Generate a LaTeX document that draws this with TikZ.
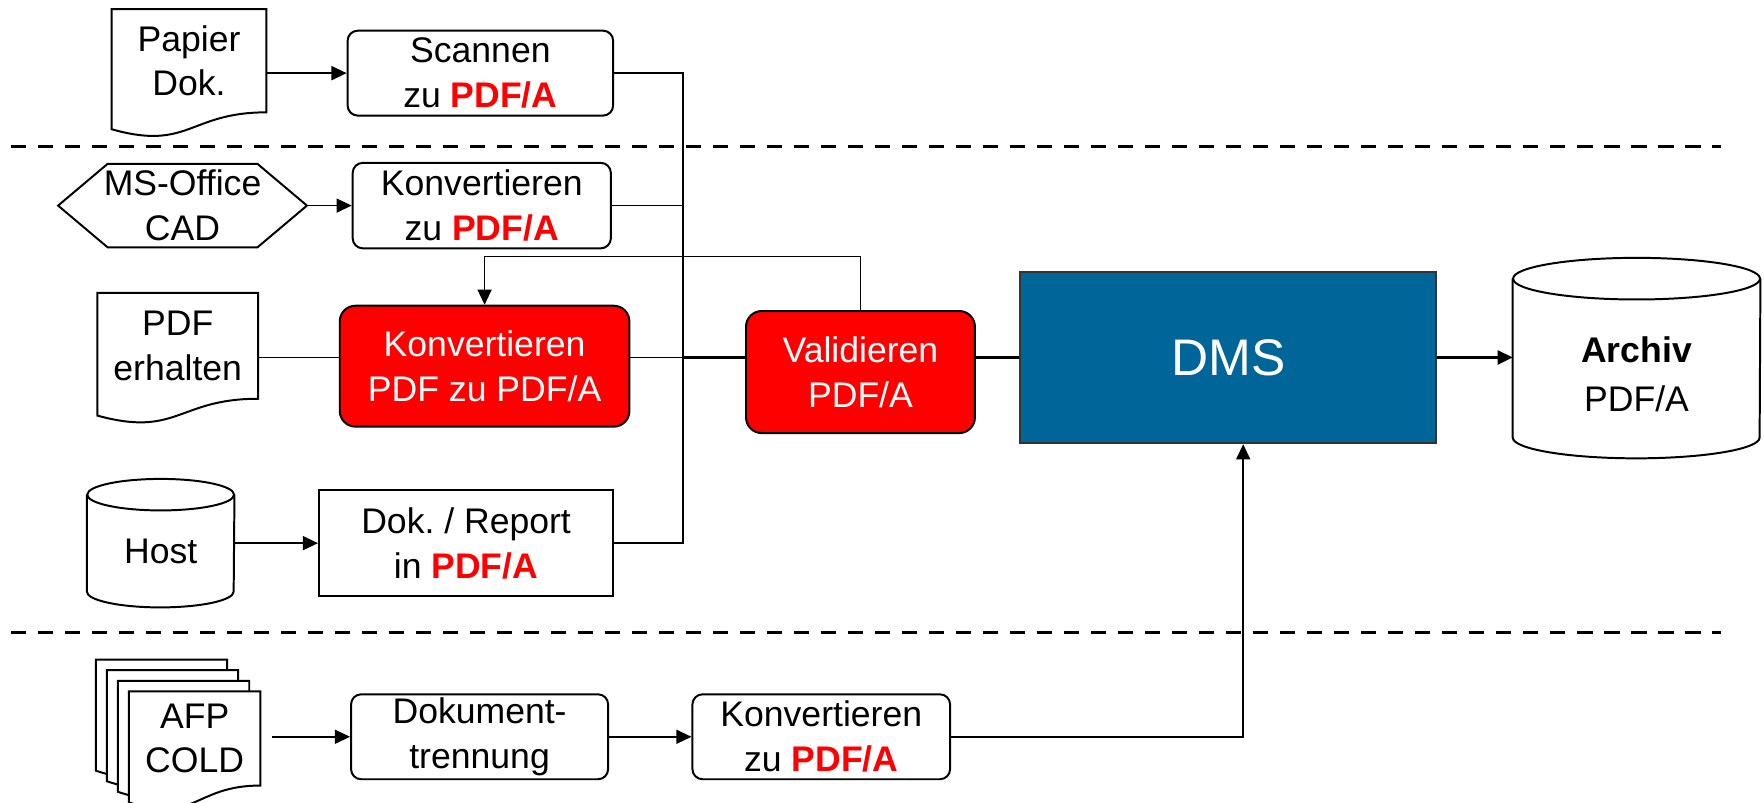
\documentclass[tikz,border=0pt]{standalone}
\usepackage{fontspec}
\setmainfont{Liberation Sans}
\usepackage{tikz}
\usetikzlibrary{arrows.meta, positioning}
\usepackage{color}
\frenchspacing
\definecolor{pdfred}{RGB}{255,0,0}
\definecolor{dmsblue}{RGB}{0,102,153}
\pgfdeclarelayer{background}
\pgfsetlayers{background,main}
\tikzstyle{whitebox} = [rectangle, rounded corners=0.18cm, minimum height=1.51cm, inner sep=0pt, align=center, draw=black, fill=white, line width=1pt]
\tikzstyle{redbox} = [rectangle, rounded corners=0.28cm, inner sep=0pt, align=center, draw=black, fill=pdfred, text=white, line width=1pt]
\tikzstyle{plainbox} = [rectangle, inner sep=0pt, align=center, draw=black, fill=white, line width=1pt]
\tikzstyle{docbox} = [rectangle, inner sep=0pt, align=center]
\tikzstyle{conn} = [line width=0.8pt]
\tikzstyle{mainline} = [line width=1.4pt]
\tikzstyle{arrow} = [line width=0.8pt, -{Triangle[length=0.27cm, width=0.25cm]}]
\tikzstyle{divider} = [line width=1.7pt, dash pattern=on 0.27cm off 0.21cm]
\newcommand{\redpdfa}{\textcolor{pdfred}{\textbf{PDF/A}}}
% document outline with wavy bottom
\newcommand{\docoutline}[2][]{\draw[line width=1pt, #1] (#2.north west) -- (#2.north east) -- (#2.south east) .. controls (#2.south) and ([yshift=-0.69cm]#2.south) .. ([yshift=-0.3cm]#2.south west) -- cycle;}
% cylinder outline: node, x radius, y radius
\newcommand{\cyloutline}[3]{\draw[line width=1pt] ([yshift=-#3]#1.north west) -- ([yshift=#3]#1.south west) arc[start angle=180, end angle=360, x radius=#2, y radius=#3] -- ([yshift=-#3]#1.north east);
  \draw[line width=1pt] ([yshift=-#3]#1.north) ellipse [x radius=#2, y radius=#3];}

\begin{document}
\begin{tikzpicture}[font=\fontsize{18}{22.7}\selectfont]
        \useasboundingbox (0,0) rectangle (31.36,-14.26);
        % Nodes
        \node (papier) [docbox, minimum width=2.74cm, minimum height=1.82cm] at (3.36,-1.08) {Papier\\Dok.};
        \node (scan) [whitebox, minimum width=4.72cm] at (8.54,-1.30) {Scannen\\zu \redpdfa};
        \node (office) [docbox, minimum width=4.41cm, minimum height=1.47cm] at (3.245,-3.655) {MS-Office\\CAD};
        \node (konvoffice) [whitebox, minimum width=4.59cm, minimum height=1.52cm] at (8.565,-3.655) {Konvertieren\\zu \redpdfa};
        \node (pdfin) [docbox, minimum width=2.84cm, minimum height=1.87cm] at (3.16,-6.147) {PDF\\erhalten};
        \node (konvpdf) [redbox, minimum width=5.15cm, minimum height=2.15cm] at (8.615,-6.51) {Konvertieren\\PDF zu PDF/A};
        \node (valid) [redbox, minimum width=4.07cm, minimum height=2.17cm] at (15.297,-6.614) {Validieren\\PDF/A};
        \node (dms) [rectangle, draw=black!80, fill=dmsblue, text=white, line width=1pt, minimum width=7.40cm, minimum height=3.05cm, font=\fontsize{26}{30}\selectfont] at (21.836,-6.355) {DMS};
        \node (archiv) [rectangle, inner sep=0pt, minimum width=4.39cm, minimum height=3.55cm] at (29.094,-6.366) {};
        \node (archivtext) [align=center, inner sep=0pt] at ([yshift=-0.29cm]archiv.center) {\textbf{Archiv}\\[1.8pt]PDF/A};
        \node (host) [rectangle, inner sep=0pt, minimum width=2.61cm, minimum height=2.27cm] at (2.856,-9.656) {};
        \node (hosttext) [inner sep=0pt] at ([yshift=-0.14cm]host.center) {Host};
        \node (dokrep) [plainbox, minimum width=5.23cm, minimum height=1.88cm] at (8.286,-9.654) {Dok. / Report\\in \redpdfa};
        \node (afp) [docbox, minimum width=2.32cm, minimum height=1.66cm] at (3.46,-13.128) {AFP\\COLD};
        \node (afpa) [docbox, minimum width=2.32cm, minimum height=1.66cm] at ([xshift=-0.196cm, yshift=0.188cm]afp.center) {};
        \node (afpb) [docbox, minimum width=2.32cm, minimum height=1.66cm] at ([xshift=-0.196cm, yshift=0.188cm]afpa.center) {};
        \node (afpc) [docbox, minimum width=2.32cm, minimum height=1.66cm] at ([xshift=-0.196cm, yshift=0.188cm]afpb.center) {};
        \node (trenn) [whitebox, minimum width=4.57cm] at (8.526,-13.098) {Dokument-\\trennung};
        \node (konvafp) [whitebox, minimum width=4.58cm] at (14.60,-13.098) {Konvertieren\\zu \redpdfa};
        \coordinate (bus) at (12.14,0);

        % Outlines
        \begin{pgfonlayer}{background}
        \docoutline{papier}
        \docoutline{pdfin}
        \docoutline[fill=white]{afpc}
        \docoutline[fill=white]{afpb}
        \docoutline[fill=white]{afpa}
        \docoutline[fill=white]{afp}
        \draw[line width=1pt] (office.west) -- ([xshift=0.88cm]office.north west) -- ([xshift=-0.88cm]office.north east) -- (office.east) -- ([xshift=-0.88cm]office.south east) -- ([xshift=0.88cm]office.south west) -- cycle;
        \cyloutline{archiv}{2.195cm}{0.37cm}
        \cyloutline{host}{1.305cm}{0.28cm}
        \end{pgfonlayer}

        % Separators
        \draw[divider] (0.2,-2.608) -- (30.6,-2.608);
        \draw[divider] (0.2,-11.248) -- (30.6,-11.248);

        % Arrows
        \draw [arrow] (papier.east |- scan) -- (scan.west);
        \draw [conn] (scan.east) -| (bus |- dokrep.east) -- (dokrep.east);
        \draw [arrow] (office.east) -- (office.east -| konvoffice.west);
        \draw [conn] (konvoffice.east) -- (konvoffice.east -| bus);
        \draw [conn] (pdfin.east |- dms) -- (konvpdf.west |- dms);
        \draw [conn] (konvpdf.east |- dms) -- (bus |- dms);
        \draw [mainline] (bus |- dms) -- (valid.west |- dms);
        \draw [mainline] (valid.east |- dms) -- (dms.west);
        \draw [arrow, line width=1.4pt] (dms.east) -- (dms.east -| archiv.west);
        \draw [arrow] (valid.north) -- ++(0,0.954) -| (konvpdf.north);
        \draw [arrow] (host.east) -- (host.east -| dokrep.west);
        \draw [arrow, shorten <=0.21cm] (afp.east |- trenn) -- (trenn.west);
        \draw [arrow] (trenn) -- (konvafp);
        \draw [arrow] (konvafp.east) -| ([xshift=0.265cm]dms.south);
    \end{tikzpicture}
\end{document}
